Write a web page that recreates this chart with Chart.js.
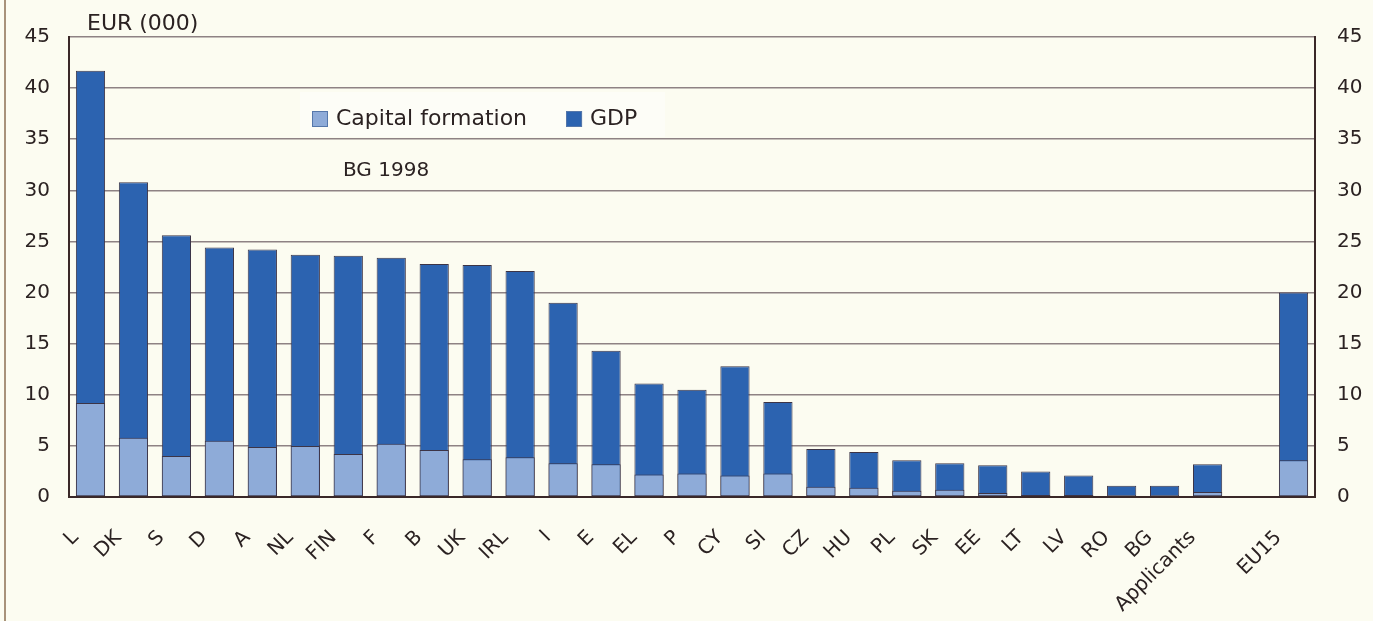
<!DOCTYPE html>
<html>
<head>
<meta charset="utf-8">
<script src="https://cdn.jsdelivr.net/npm/chart.js@4/dist/chart.umd.min.js"></script>
<style>
  html, body { margin: 0; padding: 0; background: #fcfcf1; }
  #wrap { position: relative; width: 1373px; height: 621px; overflow: hidden; }
  #edge { position: absolute; left: 4px; top: 0; width: 2px; height: 621px; background: #a8927a; }
  canvas { position: absolute; left: 0; top: 0; }
</style>
</head>
<body>
<div id="wrap">
  <div id="edge"></div>
  <canvas id="chart" width="1373" height="621"></canvas>
</div>
<script>
// categories (empty slot separates the applicants from EU15)
const labels = ['L', 'DK', 'S', 'D', 'A', 'NL', 'FIN', 'F', 'B', 'UK', 'IRL', 'I', 'E', 'EL', 'P', 'CY', 'SI',
  'CZ', 'HU', 'PL', 'SK', 'EE', 'LT', 'LV', 'RO', 'BG', 'Applicants', '', 'EU15'];

// EUR (000) per head
const gdp = [41.7, 30.8, 25.6, 24.4, 24.2, 23.7, 23.6, 23.4, 22.8, 22.7, 22.1, 19.0, 14.3, 11.1, 10.5, 12.8, 9.3,
  4.7, 4.4, 3.6, 3.3, 3.1, 2.5, 2.1, 1.1, 1.1, 3.2, null, 20.0];
const capitalFormation = [9.2, 5.8, 4.0, 5.5, 4.9, 5.0, 4.2, 5.2, 4.6, 3.7, 3.9, 3.3, 3.2, 2.2, 2.3, 2.1, 2.3,
  1.0, 0.9, 0.6, 0.7, 0.4, 0.2, 0.2, 0, 0, 0.5, null, 3.6];

const yTicks = [0, 5, 10, 15, 20, 25, 30, 35, 40, 45];

const FONT = '"DejaVu Sans", sans-serif';
const TEXT = '#2b2222';
const GDP_COLOR = '#2c63b0';
const CAP_COLOR = '#8eabd8';
const EDGE = '#3c3446';

// legend and notes drawn inside the plot area
const notesPlugin = {
  id: 'notes',
  beforeDatasetsDraw(chart) {
    const ctx = chart.ctx;
    ctx.save();
    ctx.fillStyle = '#fdfdf7';
    ctx.fillRect(300, 92, 365, 45);
    ctx.restore();
  },
  afterDraw(chart) {
    const ctx = chart.ctx;
    const area = chart.chartArea;
    ctx.save();
    ctx.fillStyle = TEXT;
    ctx.textBaseline = 'middle';
    ctx.textAlign = 'left';
    ctx.font = '22px ' + FONT;
    ctx.fillText('EUR (000)', area.left + 18, 24);

    // legend
    let x = 312;
    const y = 119;
    chart.data.datasets.forEach((ds) => {
      ctx.fillStyle = ds.backgroundColor;
      ctx.fillRect(x, y - 8, 16, 16);
      ctx.strokeStyle = '#5577aa';
      ctx.lineWidth = 1;
      ctx.strokeRect(x + 0.5, y - 7.5, 15, 15);
      ctx.fillStyle = TEXT;
      ctx.font = '22px ' + FONT;
      ctx.fillText(ds.label, x + 24, y);
      x += 24 + ctx.measureText(ds.label).width + 39;
    });

    ctx.font = '20px ' + FONT;
    ctx.fillText('BG 1998', 343, 171);
    ctx.restore();
  }
};

const gridColor = '#8e8284';
const axisColor = '#3a2828';

const ctx = document.getElementById('chart').getContext('2d');
new Chart(ctx, {
  type: 'bar',
  data: {
    labels: labels,
    datasets: [
      { label: 'Capital formation', data: capitalFormation, backgroundColor: CAP_COLOR, borderColor: EDGE,
        borderWidth: 1, borderSkipped: false, yAxisID: 'y' },
      { label: 'GDP', data: gdp, backgroundColor: GDP_COLOR, borderColor: EDGE,
        borderWidth: 1, borderSkipped: false, yAxisID: 'y' }
    ]
  },
  plugins: [notesPlugin],
  options: {
    responsive: false,
    animation: false,
    layout: { padding: { top: 37, left: 0, right: 0, bottom: 0 } },
    datasets: { bar: { categoryPercentage: 1, barPercentage: 0.68 } },
    plugins: { legend: { display: false }, tooltip: { enabled: false } },
    scales: {
      x: {
        stacked: true,
        afterFit: (s) => { s.height = 124; },
        grid: { display: false, drawTicks: false },
        border: { display: true, color: axisColor, width: 2 },
        ticks: {
          color: TEXT, font: { family: FONT, size: 20 },
          minRotation: 45, maxRotation: 45, autoSkip: false, padding: 29, labelOffset: -15
        }
      },
      y: {
        position: 'left',
        min: 0, max: 45,
        afterFit: (s) => { s.width = 69; },
        afterBuildTicks: (s) => { s.ticks = yTicks.map(v => ({ value: v })); },
        grid: { color: gridColor, lineWidth: 1.5, drawTicks: false },
        border: { display: true, color: axisColor, width: 2 },
        ticks: { color: TEXT, font: { family: FONT, size: 20 }, padding: 19 }
      },
      y2: {
        position: 'right',
        min: 0, max: 45,
        afterFit: (s) => { s.width = 58; },
        afterBuildTicks: (s) => { s.ticks = yTicks.map(v => ({ value: v })); },
        grid: { drawOnChartArea: false, drawTicks: false },
        border: { display: true, color: axisColor, width: 2 },
        ticks: { color: TEXT, font: { family: FONT, size: 20 }, padding: 22 }
      }
    }
  }
});
</script>
</body>
</html>
